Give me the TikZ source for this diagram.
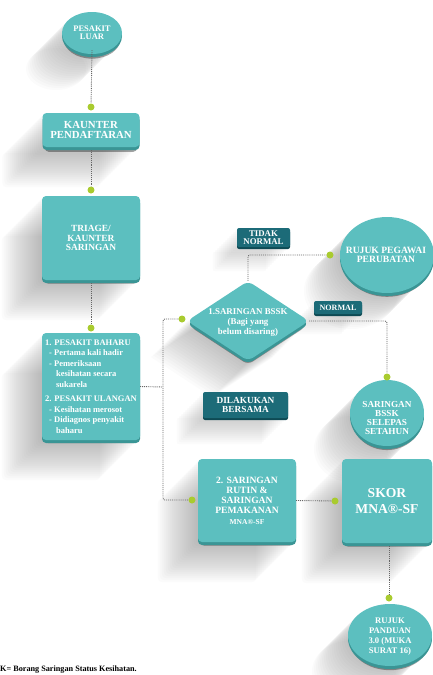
\documentclass[tikz,border=0pt]{standalone}
\usepackage{fontspec}
\setmainfont{Liberation Serif}
\usetikzlibrary{shapes.geometric,shadows,backgrounds,calc}
\definecolor{tl}{HTML}{5CBFBF}
\definecolor{tld}{HTML}{3A9595}
\definecolor{lab}{HTML}{1C6B78}
\definecolor{labd}{HTML}{0E4A54}
\definecolor{grn}{HTML}{A9CB2F}
\newcommand{\fs}[2]{\fontsize{#1}{#2}\selectfont}
\newcommand{\rectsh}[3]{%
  \foreach \i in {2,4,...,#3}
    \fill[black, opacity=0.014, rounded corners=#2] ($(#1.north west)+(-\i,\i)$) rectangle ($(#1.south east)+(-\i,\i)$);}
\newcommand{\ellsh}[3]{%
  \foreach \i in {2,4,...,36}
    \fill[black, opacity=0.014] ($(#1.center)+(-\i,\i)$) ellipse [x radius=#2, y radius=#3];}
\tikzset{
  base/.style={fill=tl, draw=none, inner sep=0pt, text=white, font=\bfseries, align=center,
    drop shadow={fill=black, opacity=0.35, shadow xshift=0pt, shadow yshift=-6pt, shadow scale=0.95},
    drop shadow={fill=tld, opacity=1, shadow xshift=0pt, shadow yshift=-3pt, shadow scale=1}},
  boxn/.style={base, rectangle, rounded corners=4pt},
  ell/.style={base, ellipse},
  dia/.style={base, diamond, rounded corners=6pt},
  tag/.style={fill=lab, rounded corners=2pt, inner sep=0pt, text=white, align=center,
    drop shadow={fill=labd, opacity=1, shadow xshift=0pt, shadow yshift=-2pt, shadow scale=1}},
  lbl/.style={text=white, align=center, inner sep=0pt},
  conn/.style={densely dotted, line width=0.9pt, draw=black!60, rounded corners=2pt},
  dotg/.style={circle, fill=grn, inner sep=0pt, minimum size=7pt}
}
\begin{document}
\begin{tikzpicture}[x=1pt,y=-1pt]
\useasboundingbox (0,0) rectangle (433,675);

% main shapes
\node[ell, minimum width=60pt, minimum height=42pt] (luar) at (92,33) {};
\node[lbl, font=\bfseries\fs{8.5}{8}] (luart) at (92,33) {PESAKIT\\LUAR};

\node[boxn, minimum width=97pt, minimum height=34pt, font=\bfseries\fs{10.8}{10}] (daftar) at (91,130) {KAUNTER\\PENDAFTARAN};

\node[boxn, minimum width=98pt, minimum height=84pt, font=\bfseries\fs{9.4}{9.5}] (triage) at (91,238) {TRIAGE/\\KAUNTER\\SARINGAN};

\node[boxn, minimum width=98pt, minimum height=107pt, align=left, font=\bfseries\fs{8.5}{10.5}] (baharu) at (91,386.5)
 {1. PESAKIT BAHARU\\
  \hspace*{4pt}- Pertama kali hadir\\
  \hspace*{4pt}- Pemeriksaan\\
  \hspace*{11pt}kesihatan secara\\
  \hspace*{11pt}sukarela\\[4pt]
  2. PESAKIT ULANGAN\\
  \hspace*{4pt}- Kesihatan merosot\\
  \hspace*{4pt}- Didiagnos penyakit\\
  \hspace*{11pt}baharu};

\node[dia, minimum width=122pt, minimum height=80pt] (dia) at (248,321) {};
\node[lbl, font=\bfseries\fs{8.9}{10}] (diat) at (248,323) {1.SARINGAN BSSK\\(Bagi yang\\belum disaring)};

\node[ell, minimum width=94pt, minimum height=76pt] (pegawai) at (387,255) {};
\node[lbl, font=\bfseries\fs{9.6}{8.5}] (pegawait) at (386,255) {RUJUK PEGAWAI\\PERUBATAN};

\node[ell, minimum width=74pt, minimum height=66pt] (setahun) at (387,413) {};
\node[lbl, font=\bfseries\fs{9.2}{8.7}] (setahunt) at (387,418) {SARINGAN\\BSSK\\SELEPAS\\SETAHUN};

\node[boxn, minimum width=98pt, minimum height=83pt, font=\bfseries\fs{9.6}{10.3}] (rutin) at (247,500.5)
 {2. SARINGAN\\RUTIN \&\\SARINGAN\\PEMAKANAN\\{\fs{7.5}{10.3}MNA®-SF}};

\node[boxn, minimum width=90pt, minimum height=84pt, font=\bfseries\fs{13.6}{16}] (skor) at (387,501) {SKOR\\MNA®-SF};

\node[ell, minimum width=84pt, minimum height=62pt] (panduan) at (390,635) {};
\node[lbl, font=\bfseries\fs{8.6}{10}] (panduant) at (390,637) {RUJUK\\PANDUAN\\3.0 (MUKA\\SURAT 16)};

% tags
\node[tag, minimum width=53pt, minimum height=19pt, font=\bfseries\fs{8.8}{7.5}] (tidak) at (263.5,237.5) {TIDAK\\NORMAL};
\node[tag, minimum width=48pt, minimum height=13pt, font=\bfseries\fs{8.1}{8}] (normal) at (338,307.5) {NORMAL};
\node[tag, minimum width=85pt, minimum height=26pt, font=\bfseries\fs{9.3}{8.5}] (bersama) at (245.5,405) {DILAKUKAN\\BERSAMA};

% long shadows
\begin{scope}[on background layer]
  \rectsh{daftar}{4pt}{40}
  \rectsh{triage}{4pt}{40}
  \rectsh{baharu}{4pt}{40}
  \rectsh{rutin}{4pt}{40}
  \rectsh{skor}{4pt}{40}
  \rectsh{tidak}{2pt}{24}
  \rectsh{normal}{2pt}{20}
  \rectsh{bersama}{2pt}{26}
  \ellsh{luar}{30pt}{21pt}
  \ellsh{pegawai}{47pt}{38pt}
  \ellsh{setahun}{37pt}{33pt}
  \ellsh{panduan}{42pt}{31pt}
  \foreach \i in {2,4,...,36}
    \fill[black, opacity=0.014] ($(dia.north)+(-\i,\i)$) -- ($(dia.east)+(-\i,\i)$) -- ($(dia.south)+(-\i,\i)$) -- ($(dia.west)+(-\i,\i)$) -- cycle;
\end{scope}

% dots
\node[dotg] (d1) at (91,107) {};
\node[dotg] (d2) at (91,190) {};
\node[dotg] (d3) at (91,328) {};
\node[dotg] (d4) at (182,319) {};
\node[dotg] (d5) at (192,500) {};
\node[dotg] (d6) at (335,501) {};
\node[dotg] (d7) at (389,598) {};
\node[dotg] (d8) at (330,255) {};
\node[dotg] (d9) at (387,377) {};
\coordinate (bj) at (163,387);

% connectors
\draw[conn] (luar.south) ++(0,4pt) -- (d1);
\draw[conn] ($(daftar.south)+(0,3)$) -- (d2);
\draw[conn] ($(triage.south)+(0,3)$) -- (d3);
\draw[conn] (baharu.east) -- (bj);
\draw[conn] (d4) -| (bj) |- (d5);
\draw[conn] (rutin.east) -- (d6);
\draw[conn] ($(skor.south -| d7)+(0,3)$) -- (d7);
\draw[conn] (dia.north) |- (d8);
\draw[conn] (dia.east) -| (d9);

% footnote
\node[anchor=base west, inner sep=0pt, font=\bfseries\fs{8.2}{9}] (note) at (0,671) {K= Borang Saringan Status Kesihatan.};
\end{tikzpicture}
\end{document}
